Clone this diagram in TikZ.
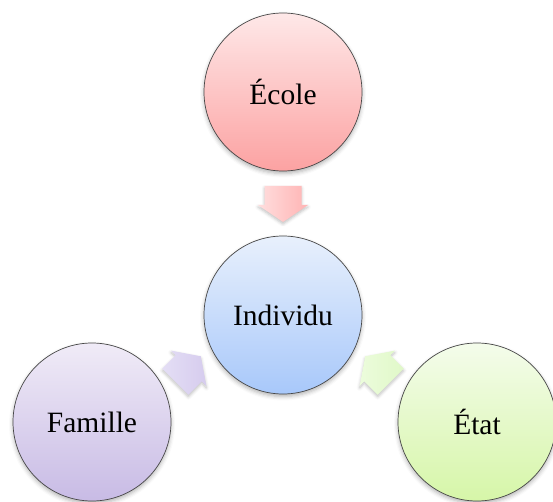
\documentclass[tikz,border=0pt]{standalone}
\usepackage{fontspec}
\setmainfont{Liberation Serif}
\usetikzlibrary{shadows.blur}
\definecolor{ecoleT}{RGB}{254,232,232}
\definecolor{ecoleB}{RGB}{252,162,162}
\definecolor{indT}{RGB}{232,240,252}
\definecolor{indB}{RGB}{168,200,250}
\definecolor{famT}{RGB}{240,235,247}
\definecolor{famB}{RGB}{200,187,229}
\definecolor{etatT}{RGB}{244,252,235}
\definecolor{etatB}{RGB}{214,246,168}
\definecolor{arrE}{RGB}{255,180,180}
\definecolor{arrEl}{RGB}{255,222,222}
\definecolor{arrF}{RGB}{214,204,238}
\definecolor{arrFl}{RGB}{228,222,245}
\definecolor{arrS}{RGB}{224,248,200}
\definecolor{arrSl}{RGB}{236,252,220}
\definecolor{rim}{RGB}{70,70,70}
\tikzset{
  bubble/.style={circle, minimum size=158pt, inner sep=0pt, draw=rim, line width=0.7pt,
    font=\fontsize{29.5}{34}\selectfont,
    blur shadow={shadow xshift=0pt, shadow yshift=-2.5pt, shadow blur radius=4pt, shadow opacity=30}},
  blockarrow/.style={blur shadow={shadow xshift=0pt, shadow yshift=-2pt, shadow blur radius=3pt, shadow opacity=25}}
}
\newcommand{\blockarr}{(-18,-18.5) -- (1,-18.5) -- (1,-25) -- (18,0) -- (1,25) -- (1,18.5) -- (-18,18.5) -- cycle}
\begin{document}
\begin{tikzpicture}[x=1pt,y=-1pt]
\useasboundingbox (0,0) rectangle (553,502);
% arrows
\begin{scope}[shift={(283,204)}, rotate=-90]
  \path[blockarrow, left color=arrEl, right color=arrE] \blockarr;
\end{scope}
\begin{scope}[shift={(188,369)}, rotate=45]
  \path[blockarrow, left color=arrFl, right color=arrF] \blockarr;
\end{scope}
\begin{scope}[shift={(378,369)}, rotate=135]
  \path[blockarrow, left color=arrSl, right color=arrS] \blockarr;
\end{scope}
% circles
\node[bubble, top color=ecoleT, bottom color=ecoleB] (ecole) at (283,92) {École};
\node[bubble, top color=indT, bottom color=indB] (ind) at (283,315) {Individu};
\node[bubble, top color=famT, bottom color=famB] (fam) at (92,422) {Famille};
\node[bubble, top color=etatT, bottom color=etatB] (etat) at (477,422) {État};
\end{tikzpicture}
\end{document}
